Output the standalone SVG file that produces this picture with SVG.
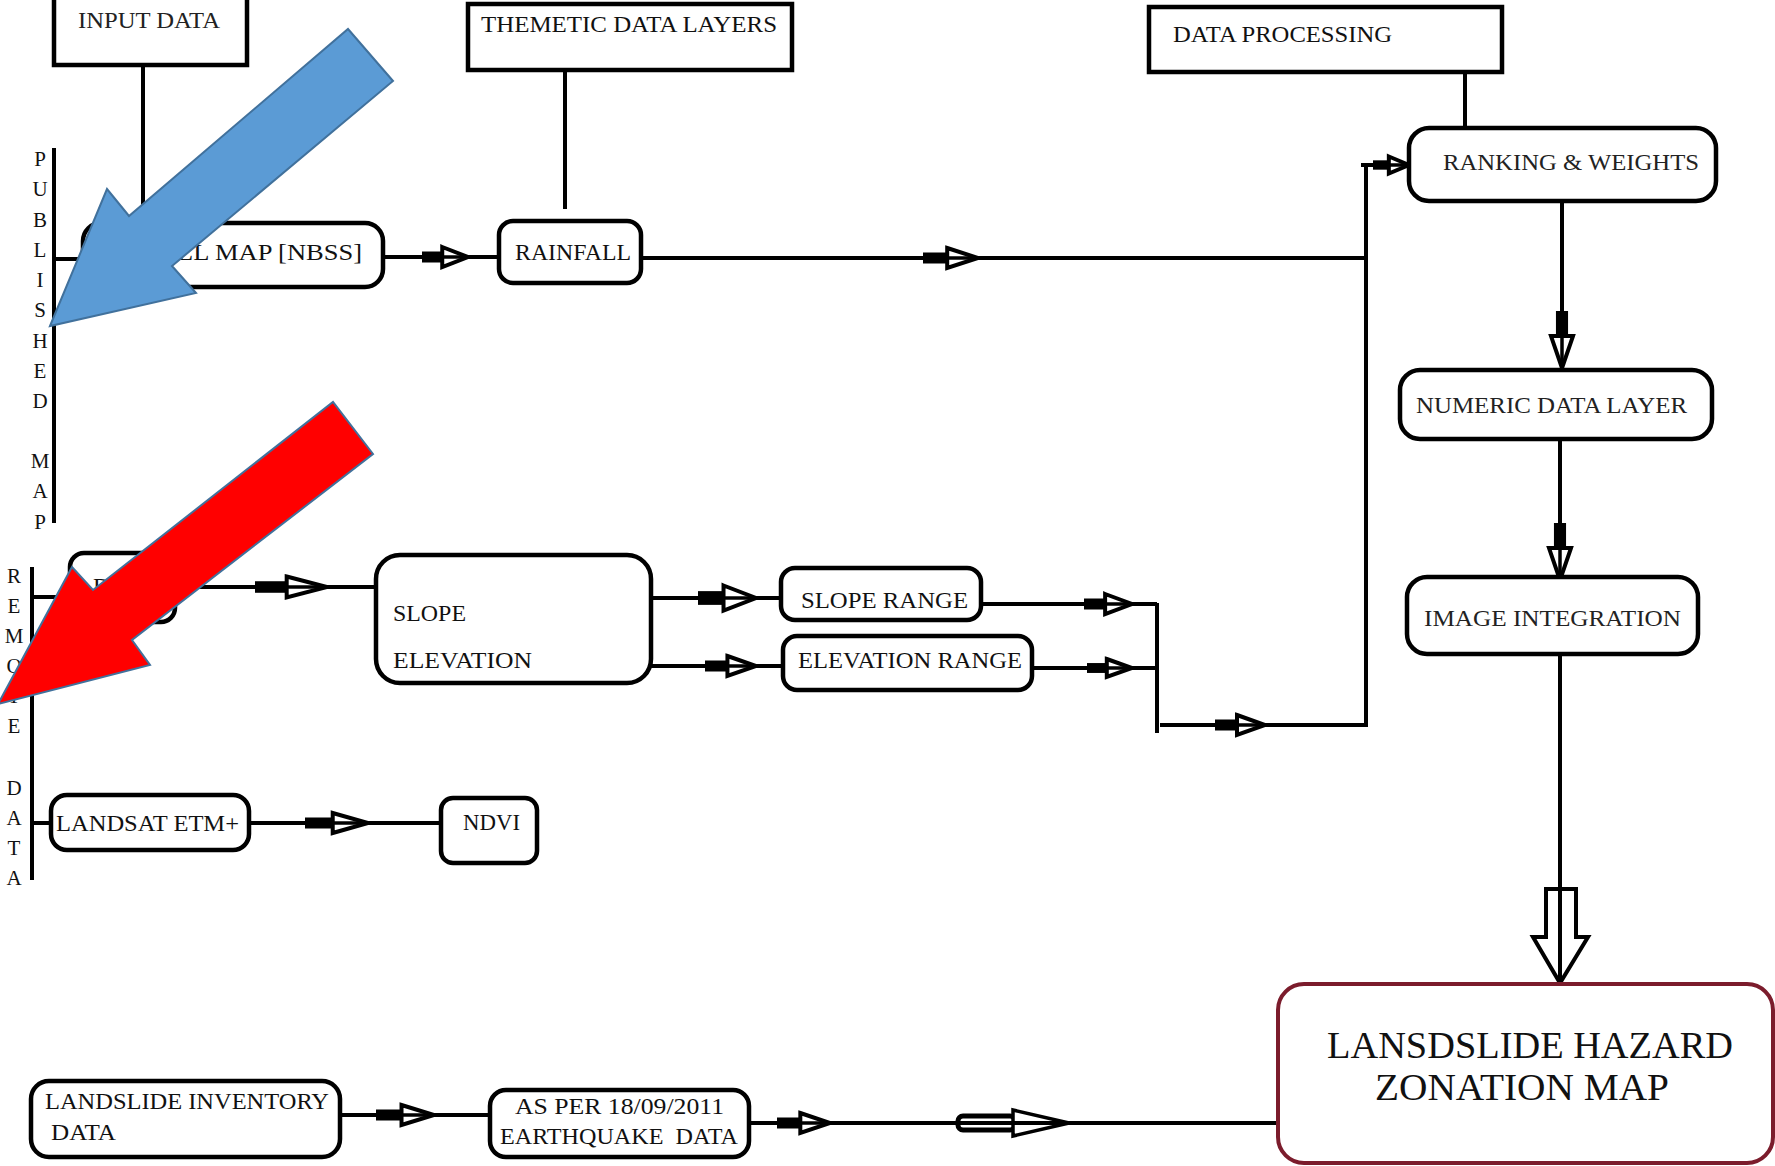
<svg xmlns="http://www.w3.org/2000/svg" xmlns:xlink="http://www.w3.org/1999/xlink" width="1775" height="1166" viewBox="0 0 1775 1166">
<style>
.bx{fill:#fff;stroke:#000;stroke-width:4.5}
.hz{fill:#fff;stroke:#7b1c2c;stroke-width:4}
.ln{fill:none;stroke:#000;stroke-width:4}
.t{font-family:"Liberation Serif","Times New Roman",serif;font-size:24px;fill:#111}
.tw{font-family:"Liberation Serif","Times New Roman",serif;font-size:24px;fill:#222}
.th{font-family:"Liberation Serif","Times New Roman",serif;font-size:37px;fill:#111}
.lt{font-family:"Liberation Serif","Times New Roman",serif;font-size:21px;fill:#111;text-anchor:middle}
.ov{stroke:#41719c;stroke-width:2}
</style>
<defs>
<g id="arw">
<rect x="0" y="-5.5" width="27" height="11" fill="#000"/>
<path d="M22,-10 L50,0 L22,10 Z" fill="#fff" stroke="#000" stroke-width="4" vector-effect="non-scaling-stroke"/>
<path d="M22,0 H46" stroke="#000" stroke-width="3.5" vector-effect="non-scaling-stroke"/>
</g>
</defs>
<rect width="1775" height="1166" fill="#fff"/>
<g id="connectors">
<path class="ln" d="M143,65 V222"/>
<path class="ln" d="M565,70 V209"/>
<path class="ln" d="M1465,72 V128"/>
<path class="ln" d="M54,148 V523"/>
<path class="ln" d="M54,259 H83"/>
<path class="ln" d="M383,257 H499"/>
<use href="#arw" transform="translate(422,257) scale(0.92,1)"/>
<path class="ln" d="M641,258 H1366"/>
<use href="#arw" transform="translate(923,258) scale(1.1,1)"/>
<path class="ln" d="M1366,163 V727"/>
<path class="ln" d="M1361,165 H1409"/>
<use href="#arw" transform="translate(1373,165) scale(0.72,0.85)"/>
<path class="ln" d="M1562,201 V370"/>
<use href="#arw" transform="translate(1562,311) rotate(90) scale(1.14,1.1)"/>
<path class="ln" d="M1560,439 V577"/>
<use href="#arw" transform="translate(1560,523) rotate(90) scale(1.14,1.1)"/>
<path d="M1546,889 H1576 V937 H1588 L1560,983 L1533,937 H1546 Z" fill="#fff" stroke="#000" stroke-width="4" stroke-linejoin="miter"/>
<path class="ln" d="M1560,654 V984"/>
<path class="ln" d="M32,567 V880"/>
<path class="ln" d="M32,597 H70"/>
<path class="ln" d="M175,587 H376"/>
<use href="#arw" transform="translate(255,587) scale(1.44,1.05)"/>
<path class="ln" d="M651,598 H781"/>
<use href="#arw" transform="translate(698,598) scale(1.16,1.25)"/>
<path class="ln" d="M651,666 H783"/>
<use href="#arw" transform="translate(705,666) scale(1.02,1)"/>
<path class="ln" d="M981,604 H1157"/>
<use href="#arw" transform="translate(1084,604) scale(0.96,1)"/>
<path class="ln" d="M1032,668 H1157"/>
<use href="#arw" transform="translate(1087,668) scale(0.9,0.9)"/>
<path class="ln" d="M1157,603 V733"/>
<path class="ln" d="M1160,725 H1368"/>
<use href="#arw" transform="translate(1215,725) scale(1,1)"/>
<path class="ln" d="M32,823 H51"/>
<path class="ln" d="M249,823 H441"/>
<use href="#arw" transform="translate(305,823) scale(1.26,1)"/>
<path class="ln" d="M340,1115 H490"/>
<use href="#arw" transform="translate(376,1115) scale(1.16,1)"/>
<path class="ln" d="M749,1123 H1278"/>
<use href="#arw" transform="translate(777,1123) scale(1.06,1)"/>
<rect x="958" y="1116" width="57" height="14" rx="5" fill="#fff" stroke="#000" stroke-width="5"/>
<path d="M1013,1110 L1069,1123 L1013,1136 Z" fill="#fff" stroke="#000" stroke-width="3.5"/>
<path class="ln" d="M958,1123 H1070" stroke-width="3"/>
</g>
<g id="n-input"><rect class="bx" x="54" y="-10" width="193" height="75"/><text class="tw" x="78" y="28" textLength="142" lengthAdjust="spacingAndGlyphs">INPUT DATA</text></g>
<g id="n-themetic"><rect class="bx" x="468" y="4" width="324" height="66"/><text class="t" x="481" y="32" textLength="296" lengthAdjust="spacingAndGlyphs">THEMETIC DATA LAYERS</text></g>
<g id="n-dataproc"><rect class="bx" x="1149" y="7" width="353" height="65"/><text class="t" x="1173" y="42" textLength="219" lengthAdjust="spacingAndGlyphs">DATA PROCESSING</text></g>
<g id="n-ranking"><rect class="bx" x="1409" y="128" width="307" height="73" rx="20"/><text class="tw" x="1443" y="170" textLength="256" lengthAdjust="spacingAndGlyphs">RANKING &amp; WEIGHTS</text></g>
<g id="n-numeric"><rect class="bx" x="1400" y="370" width="312" height="69" rx="20"/><text class="tw" x="1416" y="413" textLength="271" lengthAdjust="spacingAndGlyphs">NUMERIC DATA LAYER</text></g>
<g id="n-image"><rect class="bx" x="1407" y="577" width="291" height="77" rx="20"/><text class="tw" x="1424" y="626" textLength="257" lengthAdjust="spacingAndGlyphs">IMAGE INTEGRATION</text></g>
<g id="n-rainfall"><rect class="bx" x="499" y="221" width="142" height="62" rx="14"/><text class="t" x="515" y="260" textLength="116" lengthAdjust="spacingAndGlyphs">RAINFALL</text></g>
<g id="n-nbss"><rect class="bx" x="83" y="223" width="300" height="64" rx="18"/><text class="t" x="177" y="260" textLength="185" lengthAdjust="spacingAndGlyphs">LL MAP [NBSS]</text></g>
<g id="n-dem"><rect class="bx" x="70" y="553" width="105" height="69" rx="14"/><text class="t" x="93" y="594">D</text></g>
<g id="n-slope"><rect class="bx" x="376" y="555" width="275" height="128" rx="24"/><text class="t" x="393" y="621" textLength="73" lengthAdjust="spacingAndGlyphs">SLOPE</text><text class="t" x="393" y="668" textLength="139" lengthAdjust="spacingAndGlyphs">ELEVATION</text></g>
<g id="n-sloperange"><rect class="bx" x="781" y="568" width="200" height="52" rx="14"/><text class="t" x="801" y="608" textLength="167" lengthAdjust="spacingAndGlyphs">SLOPE RANGE</text></g>
<g id="n-elevrange"><rect class="bx" x="783" y="636" width="249" height="54" rx="14"/><text class="t" x="798" y="668" textLength="224" lengthAdjust="spacingAndGlyphs">ELEVATION RANGE</text></g>
<g id="n-landsat"><rect class="bx" x="51" y="795" width="198" height="55" rx="16"/><text class="t" x="56" y="831" textLength="183" lengthAdjust="spacingAndGlyphs">LANDSAT ETM+</text></g>
<g id="n-ndvi"><rect class="bx" x="441" y="798" width="96" height="65" rx="12"/><text class="t" x="463" y="830" textLength="57" lengthAdjust="spacingAndGlyphs">NDVI</text></g>
<g id="n-landslide"><rect class="bx" x="31" y="1081" width="309" height="76" rx="18"/><text class="t" x="45" y="1109" textLength="284" lengthAdjust="spacingAndGlyphs">LANDSLIDE INVENTORY</text><text class="t" x="51" y="1140" textLength="65" lengthAdjust="spacingAndGlyphs">DATA</text></g>
<g id="n-asper"><rect class="bx" x="490" y="1090" width="259" height="67" rx="16"/><text class="t" x="515" y="1114" textLength="209" lengthAdjust="spacingAndGlyphs">AS PER 18/09/2011</text><text class="t" x="500" y="1144" textLength="238" lengthAdjust="spacingAndGlyphs" xml:space="preserve">EARTHQUAKE  DATA</text></g>
<g id="n-hazard"><rect class="hz" x="1278" y="984" width="495" height="179" rx="26"/><text class="th" x="1327" y="1058" textLength="406" lengthAdjust="spacingAndGlyphs">LANSDSLIDE HAZARD</text><text class="th" x="1375" y="1100" textLength="294" lengthAdjust="spacingAndGlyphs">ZONATION MAP</text></g>
<g id="label-published">
<text class="lt" x="40" y="166">P</text><text class="lt" x="40" y="196">U</text><text class="lt" x="40" y="227">B</text><text class="lt" x="40" y="257">L</text><text class="lt" x="40" y="287">I</text><text class="lt" x="40" y="317">S</text><text class="lt" x="40" y="348">H</text><text class="lt" x="40" y="378">E</text><text class="lt" x="40" y="408">D</text><text class="lt" x="40" y="468">M</text><text class="lt" x="40" y="498">A</text><text class="lt" x="40" y="529">P</text>
</g>
<g id="label-remote">
<text class="lt" x="14" y="583">R</text><text class="lt" x="14" y="613">E</text><text class="lt" x="14" y="643">M</text><text class="lt" x="14" y="673">O</text><text class="lt" x="14" y="703">T</text><text class="lt" x="14" y="733">E</text><text class="lt" x="14" y="795">D</text><text class="lt" x="14" y="825">A</text><text class="lt" x="14" y="855">T</text><text class="lt" x="14" y="885">A</text>
</g>
<g id="blue-arrow"><polygon class="ov" fill="#5b9bd5" points="50,326 107,189 129,216 348,29 393,81 172,266 196,293"/></g>
<g id="red-arrow"><polygon class="ov" fill="#ff0000" points="-2,704 72,567 93,590 333,402 373,454 132,640 150,665"/></g>
</svg>
